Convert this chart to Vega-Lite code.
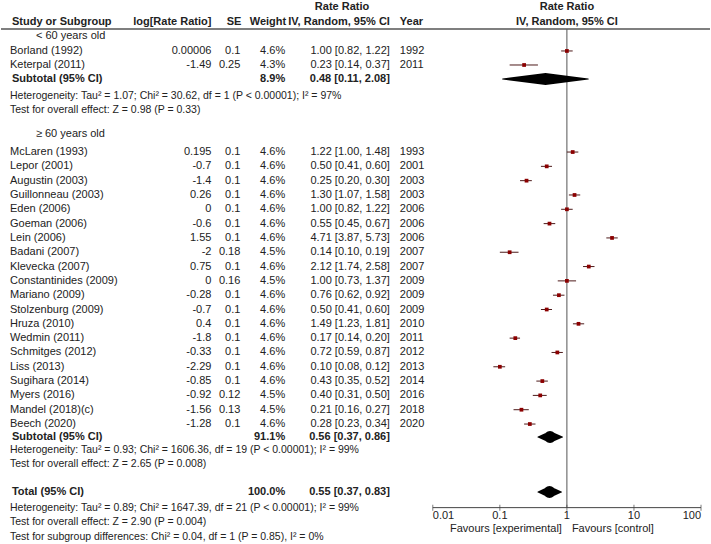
{
"$schema":"https://vega.github.io/schema/vega-lite/v6.json",
"width":711,"height":544,"padding":0,
"autosize":{"type":"fit","contains":"padding"},
"config":{"view":{"stroke":null},"text":{"font":"Liberation Sans","fontSize":11,"baseline":"middle","color":"#222222"}},
"datasets":{
"studies":[
{"name":"Borland (1992)","lrr":"0.00006","se":"0.1","w":"4.6%","ci":"1.00 [0.82, 1.22]","year":"1992","rr":1.00,"lo":0.82,"hi":1.22,"row":3.56},
{"name":"Keterpal (2011)","lrr":"-1.49","se":"0.25","w":"4.3%","ci":"0.23 [0.14, 0.37]","year":"2011","rr":0.23,"lo":0.14,"hi":0.37,"row":4.54},
{"name":"McLaren (1993)","lrr":"0.195","se":"0.1","w":"4.6%","ci":"1.22 [1.00, 1.48]","year":"1993","rr":1.22,"lo":1.00,"hi":1.48,"row":10.62},
{"name":"Lepor (2001)","lrr":"-0.7","se":"0.1","w":"4.6%","ci":"0.50 [0.41, 0.60]","year":"2001","rr":0.50,"lo":0.41,"hi":0.60,"row":11.62},
{"name":"Augustin (2003)","lrr":"-1.4","se":"0.1","w":"4.6%","ci":"0.25 [0.20, 0.30]","year":"2003","rr":0.25,"lo":0.20,"hi":0.30,"row":12.62},
{"name":"Guillonneau (2003)","lrr":"0.26","se":"0.1","w":"4.6%","ci":"1.30 [1.07, 1.58]","year":"2003","rr":1.30,"lo":1.07,"hi":1.58,"row":13.62},
{"name":"Eden (2006)","lrr":"0","se":"0.1","w":"4.6%","ci":"1.00 [0.82, 1.22]","year":"2006","rr":1.00,"lo":0.82,"hi":1.22,"row":14.62},
{"name":"Goeman (2006)","lrr":"-0.6","se":"0.1","w":"4.6%","ci":"0.55 [0.45, 0.67]","year":"2006","rr":0.55,"lo":0.45,"hi":0.67,"row":15.62},
{"name":"Lein (2006)","lrr":"1.55","se":"0.1","w":"4.6%","ci":"4.71 [3.87, 5.73]","year":"2006","rr":4.71,"lo":3.87,"hi":5.73,"row":16.62},
{"name":"Badani (2007)","lrr":"-2","se":"0.18","w":"4.5%","ci":"0.14 [0.10, 0.19]","year":"2007","rr":0.14,"lo":0.10,"hi":0.19,"row":17.62},
{"name":"Klevecka (2007)","lrr":"0.75","se":"0.1","w":"4.6%","ci":"2.12 [1.74, 2.58]","year":"2007","rr":2.12,"lo":1.74,"hi":2.58,"row":18.62},
{"name":"Constantinides (2009)","lrr":"0","se":"0.16","w":"4.5%","ci":"1.00 [0.73, 1.37]","year":"2009","rr":1.00,"lo":0.73,"hi":1.37,"row":19.62},
{"name":"Mariano (2009)","lrr":"-0.28","se":"0.1","w":"4.6%","ci":"0.76 [0.62, 0.92]","year":"2009","rr":0.76,"lo":0.62,"hi":0.92,"row":20.62},
{"name":"Stolzenburg (2009)","lrr":"-0.7","se":"0.1","w":"4.6%","ci":"0.50 [0.41, 0.60]","year":"2009","rr":0.50,"lo":0.41,"hi":0.60,"row":21.62},
{"name":"Hruza (2010)","lrr":"0.4","se":"0.1","w":"4.6%","ci":"1.49 [1.23, 1.81]","year":"2010","rr":1.49,"lo":1.23,"hi":1.81,"row":22.62},
{"name":"Wedmin (2011)","lrr":"-1.8","se":"0.1","w":"4.6%","ci":"0.17 [0.14, 0.20]","year":"2011","rr":0.17,"lo":0.14,"hi":0.20,"row":23.62},
{"name":"Schmitges (2012)","lrr":"-0.33","se":"0.1","w":"4.6%","ci":"0.72 [0.59, 0.87]","year":"2012","rr":0.72,"lo":0.59,"hi":0.87,"row":24.62},
{"name":"Liss (2013)","lrr":"-2.29","se":"0.1","w":"4.6%","ci":"0.10 [0.08, 0.12]","year":"2013","rr":0.10,"lo":0.08,"hi":0.12,"row":25.62},
{"name":"Sugihara (2014)","lrr":"-0.85","se":"0.1","w":"4.6%","ci":"0.43 [0.35, 0.52]","year":"2014","rr":0.43,"lo":0.35,"hi":0.52,"row":26.62},
{"name":"Myers (2016)","lrr":"-0.92","se":"0.12","w":"4.5%","ci":"0.40 [0.31, 0.50]","year":"2016","rr":0.40,"lo":0.31,"hi":0.50,"row":27.62},
{"name":"Mandel (2018)(c)","lrr":"-1.56","se":"0.13","w":"4.5%","ci":"0.21 [0.16, 0.27]","year":"2018","rr":0.21,"lo":0.16,"hi":0.27,"row":28.62},
{"name":"Beech (2020)","lrr":"-1.28","se":"0.1","w":"4.6%","ci":"0.28 [0.23, 0.34]","year":"2020","rr":0.28,"lo":0.23,"hi":0.34,"row":29.62}
],
"summary":[
{"label":"Subtotal (95% CI)","w":"8.9%","ci":"0.48 [0.11, 2.08]","est":0.48,"lo":0.11,"hi":2.08,"row":5.52},
{"label":"Subtotal (95% CI) ","w":"91.1%","ci":"0.56 [0.37, 0.86]","est":0.56,"lo":0.37,"hi":0.86,"row":30.53},
{"label":"Total (95% CI)","w":"100.0%","ci":"0.55 [0.37, 0.83]","est":0.55,"lo":0.37,"hi":0.83,"row":34.37}
],
"groups":[
{"text":"< 60 years old","row":2.51},
{"text":"≥ 60 years old","row":9.36}
],
"notes":[
{"text":"Heterogeneity: Tau² = 1.07; Chi² = 30.62, df = 1 (P < 0.00001); I² = 97%","row":6.71},
{"text":"Test for overall effect: Z = 0.98 (P = 0.33)","row":7.68},
{"text":"Heterogeneity: Tau² = 0.93; Chi² = 1606.36, df = 19 (P < 0.00001); I² = 99%","row":31.43},
{"text":"Test for overall effect: Z = 2.65 (P = 0.008)","row":32.41},
{"text":"Heterogeneity: Tau² = 0.89; Chi² = 1647.39, df = 21 (P < 0.00001); I² = 99%","row":35.48},
{"text":"Test for overall effect: Z = 2.90 (P = 0.004)","row":36.46},
{"text":"Test for subgroup differences: Chi² = 0.04, df = 1 (P = 0.85), I² = 0%","row":37.51}
],
"ticks":[
{"v":0.01,"label":"0.01"},{"v":0.1,"label":"0.1"},{"v":1,"label":"1"},{"v":10,"label":"10"},{"v":100,"label":"100"}
]
},
"layer":[
{"layer":[
{"data":{"values":[{}]},"mark":{"type":"rule","color":"#7f7f7f","strokeWidth":2},
 "encoding":{"x":{"datum":0,"type":"quantitative","scale":{"domain":[0,711],"nice":false,"zero":false},"axis":null},"x2":{"datum":711},
 "y":{"datum":2.03,"type":"quantitative","scale":{"domain":[0,38],"reverse":true,"nice":false,"zero":false},"axis":null}}},
{"data":{"values":[{}]},"mark":{"type":"text","text":"Study or Subgroup","align":"left","fontWeight":"bold"},
 "encoding":{"x":{"datum":11,"type":"quantitative"},"y":{"datum":1.54,"type":"quantitative"}}},
{"data":{"values":[{}]},"mark":{"type":"text","text":"log[Rate Ratio]","align":"right","fontWeight":"bold"},
 "encoding":{"x":{"datum":211,"type":"quantitative"},"y":{"datum":1.54,"type":"quantitative"}}},
{"data":{"values":[{}]},"mark":{"type":"text","text":"SE","align":"right","fontWeight":"bold"},
 "encoding":{"x":{"datum":241,"type":"quantitative"},"y":{"datum":1.54,"type":"quantitative"}}},
{"data":{"values":[{}]},"mark":{"type":"text","text":"Weight","align":"right","fontWeight":"bold"},
 "encoding":{"x":{"datum":286,"type":"quantitative"},"y":{"datum":1.54,"type":"quantitative"}}},
{"data":{"values":[{}]},"mark":{"type":"text","text":"Rate Ratio","align":"center","fontWeight":"bold"},
 "encoding":{"x":{"datum":342,"type":"quantitative"},"y":{"datum":0.49,"type":"quantitative"}}},
{"data":{"values":[{}]},"mark":{"type":"text","text":"IV, Random, 95% CI","align":"right","fontWeight":"bold"},
 "encoding":{"x":{"datum":390,"type":"quantitative"},"y":{"datum":1.54,"type":"quantitative"}}},
{"data":{"values":[{}]},"mark":{"type":"text","text":"Year","align":"left","fontWeight":"bold"},
 "encoding":{"x":{"datum":400,"type":"quantitative"},"y":{"datum":1.54,"type":"quantitative"}}},
{"data":{"name":"groups"},"mark":{"type":"text","align":"left"},
 "encoding":{"x":{"datum":35,"type":"quantitative"},"y":{"field":"row","type":"quantitative"},"text":{"field":"text"}}},
{"data":{"name":"studies"},"mark":{"type":"text","align":"left"},
 "encoding":{"x":{"datum":9,"type":"quantitative"},"y":{"field":"row","type":"quantitative"},"text":{"field":"name"}}},
{"data":{"name":"studies"},"mark":{"type":"text","align":"right"},
 "encoding":{"x":{"datum":211,"type":"quantitative"},"y":{"field":"row","type":"quantitative"},"text":{"field":"lrr"}}},
{"data":{"name":"studies"},"mark":{"type":"text","align":"right"},
 "encoding":{"x":{"datum":240,"type":"quantitative"},"y":{"field":"row","type":"quantitative"},"text":{"field":"se"}}},
{"data":{"name":"studies"},"mark":{"type":"text","align":"right"},
 "encoding":{"x":{"datum":285,"type":"quantitative"},"y":{"field":"row","type":"quantitative"},"text":{"field":"w"}}},
{"data":{"name":"studies"},"mark":{"type":"text","align":"right"},
 "encoding":{"x":{"datum":390,"type":"quantitative"},"y":{"field":"row","type":"quantitative"},"text":{"field":"ci"}}},
{"data":{"name":"studies"},"mark":{"type":"text","align":"left"},
 "encoding":{"x":{"datum":400,"type":"quantitative"},"y":{"field":"row","type":"quantitative"},"text":{"field":"year"}}},
{"data":{"name":"summary"},"mark":{"type":"text","align":"left","fontWeight":"bold"},
 "encoding":{"x":{"datum":11,"type":"quantitative"},"y":{"field":"row","type":"quantitative"},"text":{"field":"label"}}},
{"data":{"name":"summary"},"mark":{"type":"text","align":"right","fontWeight":"bold"},
 "encoding":{"x":{"datum":285,"type":"quantitative"},"y":{"field":"row","type":"quantitative"},"text":{"field":"w"}}},
{"data":{"name":"summary"},"mark":{"type":"text","align":"right","fontWeight":"bold"},
 "encoding":{"x":{"datum":390,"type":"quantitative"},"y":{"field":"row","type":"quantitative"},"text":{"field":"ci"}}},
{"data":{"name":"notes"},"mark":{"type":"text","align":"left","fontSize":10.5},
 "encoding":{"x":{"datum":9,"type":"quantitative"},"y":{"field":"row","type":"quantitative"},"text":{"field":"text"}}}
]},
{"layer":[
{"data":{"values":[{}]},"mark":{"type":"rule","color":"#555555","strokeWidth":1},
 "encoding":{"x":{"datum":1,"type":"quantitative","scale":{"type":"log","domain":[3.64e-9,136.1],"nice":false},"axis":null},
 "y":{"datum":2.03,"type":"quantitative"},"y2":{"datum":35.46}}},
{"data":{"name":"studies"},"mark":{"type":"rule","color":"#4d1a1a","strokeWidth":1},
 "encoding":{"x":{"field":"lo","type":"quantitative"},"x2":{"field":"hi"},"y":{"field":"row","type":"quantitative"}}},
{"data":{"name":"studies"},"mark":{"type":"point","shape":"square","filled":true,"color":"#8b0000","opacity":1,"size":14},
 "encoding":{"x":{"field":"rr","type":"quantitative"},"y":{"field":"row","type":"quantitative"}}},
{"data":{"name":"summary"},"transform":[{"fold":["lo","est","hi"],"as":["part","val"]}],
 "mark":{"type":"trail","color":"#000000"},
 "encoding":{"x":{"field":"val","type":"quantitative"},"y":{"field":"row","type":"quantitative"},
 "detail":{"field":"label"},"order":{"field":"val","type":"quantitative"},
 "size":{"condition":{"test":"datum.part == 'est'","value":12},"value":0}}},
{"data":{"values":[{}]},"mark":{"type":"rule","color":"#444444","strokeWidth":1},
 "encoding":{"x":{"datum":0.01,"type":"quantitative"},"x2":{"datum":100},"y":{"datum":35.46,"type":"quantitative"}}},
{"data":{"name":"ticks"},"mark":{"type":"tick","orient":"vertical","color":"#444444","thickness":1,"size":6},
 "encoding":{"x":{"field":"v","type":"quantitative"},"y":{"datum":35.46,"type":"quantitative"}}},
{"data":{"name":"ticks"},"transform":[{"filter":"datum.v == 0.01"}],"mark":{"type":"text","align":"left"},
 "encoding":{"x":{"field":"v","type":"quantitative"},"y":{"datum":36.04,"type":"quantitative"},"text":{"field":"label"}}},
{"data":{"name":"ticks"},"transform":[{"filter":"datum.v > 0.01 && datum.v < 100"}],"mark":{"type":"text","align":"center"},
 "encoding":{"x":{"field":"v","type":"quantitative"},"y":{"datum":36.04,"type":"quantitative"},"text":{"field":"label"}}},
{"data":{"name":"ticks"},"transform":[{"filter":"datum.v == 100"}],"mark":{"type":"text","align":"right"},
 "encoding":{"x":{"field":"v","type":"quantitative"},"y":{"datum":36.04,"type":"quantitative"},"text":{"field":"label"}}},
{"data":{"values":[{}]},"mark":{"type":"text","text":"Favours [experimental]","align":"right","dx":-5},
 "encoding":{"x":{"datum":1,"type":"quantitative"},"y":{"datum":36.95,"type":"quantitative"}}},
{"data":{"values":[{}]},"mark":{"type":"text","text":"Favours [control]","align":"left","dx":5},
 "encoding":{"x":{"datum":1,"type":"quantitative"},"y":{"datum":36.95,"type":"quantitative"}}},
{"data":{"values":[{}]},"mark":{"type":"text","text":"Rate Ratio","align":"center","fontWeight":"bold"},
 "encoding":{"x":{"datum":1,"type":"quantitative"},"y":{"datum":0.49,"type":"quantitative"}}},
{"data":{"values":[{}]},"mark":{"type":"text","text":"IV, Random, 95% CI","align":"center","fontWeight":"bold"},
 "encoding":{"x":{"datum":1,"type":"quantitative"},"y":{"datum":1.54,"type":"quantitative"}}}
]}
],
"resolve":{"scale":{"x":"independent"}}
}
